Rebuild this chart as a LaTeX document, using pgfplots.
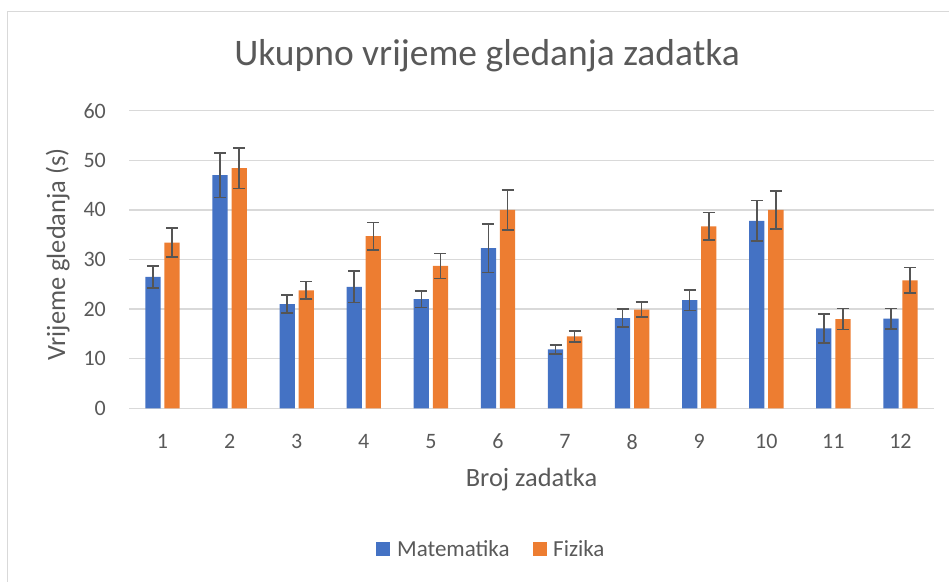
\documentclass[border=0pt]{standalone}
\usepackage{fontspec}
\setmainfont{Carlito}
\usepackage{pgfplots}
\usepackage{pgfplotstable}
\pgfplotsset{compat=1.18}
\definecolor{mblue}{HTML}{4472C4}
\definecolor{forange}{HTML}{ED7D31}
\definecolor{gridgray}{HTML}{D9D9D9}
\definecolor{txtgray}{HTML}{595959}
\definecolor{errgray}{HTML}{555555}
\pgfplotstableread{
x m me f fe
1 26.5 2.2 33.4 2.9
2 47.0 4.5 48.4 4.1
3 21.0 1.8 23.8 1.8
4 24.5 3.2 34.7 2.8
5 22.0 1.65 28.7 2.5
6 32.3 4.9 40.0 4.0
7 11.9 0.9 14.5 1.1
8 18.2 1.8 19.9 1.5
9 21.8 2.05 36.7 2.8
10 37.8 4.1 40.0 3.8
11 16.1 2.95 18.0 2.1
12 18.1 2.05 25.8 2.6
}\datatable
\begin{document}
\begin{tikzpicture}
\path[use as bounding box] (0pt,0pt) rectangle (949pt,-581pt);
\draw[gridgray, line width=1.3pt] (7.7pt,-600pt) -- (7.7pt,-11.7pt) -- (960pt,-11.7pt);
\begin{axis}[
  at={(129pt,-408.3pt)}, anchor=south west,
  scale only axis, width=805pt, height=297.6pt,
  ybar=3.8pt, bar width=15.3pt,
  xmin=0.5, xmax=12.5, ymin=0, ymax=60,
  xtick={1,...,12}, ytick={0,10,...,60},
  ymajorgrids, grid style={line width=1.3pt, color=gridgray},
  axis line style={draw=none}, major tick length=0pt,
  /pgf/number format/assume math mode=true,
  tick label style={font=\fontsize{22}{26}\selectfont, text=txtgray, inner sep=0pt},
  yticklabel style={anchor=east, xshift=-23pt},
  xticklabel style={anchor=north, yshift=-25.5pt},
  legend style={at={(0.449,-0.4728)}, anchor=center, draw=none, fill=none,
    legend columns=2, font=\fontsize{23}{27}\selectfont, text=txtgray,
    nodes={inner sep=0pt},
    /tikz/every even column/.append style={column sep=23pt}},
  legend image code/.code={\fill[#1,draw=none] (0pt,-7pt) rectangle (14pt,7pt); \path (20.7pt,0pt);},
  error bars/y dir=both, error bars/y explicit,
  error bars/error bar style={line width=1.6pt, color=errgray},
  error bars/error mark options={rotate=90, mark size=6pt, line width=1.6pt, color=errgray},
]
\addplot[fill=mblue, draw=none] table[x=x, y=m, y error=me] {\datatable};
\addplot[fill=forange, draw=none] table[x=x, y=f, y error=fe] {\datatable};
\legend{Matematika, Fizika}
\end{axis}
\node[anchor=base, text=txtgray, font=\fontsize{37.5}{44}\selectfont] at (487pt,-65.7pt) {Ukupno vrijeme gledanja zadatka};
\node[anchor=base, text=txtgray, font=\fontsize{26.4}{31}\selectfont] at (531.5pt,-486pt) {Broj zadatka};
\node[anchor=base, rotate=90, text=txtgray, font=\fontsize{26.4}{31}\selectfont] at (65pt,-254.5pt) {Vrijeme gledanja (s)};
\end{tikzpicture}
\end{document}
